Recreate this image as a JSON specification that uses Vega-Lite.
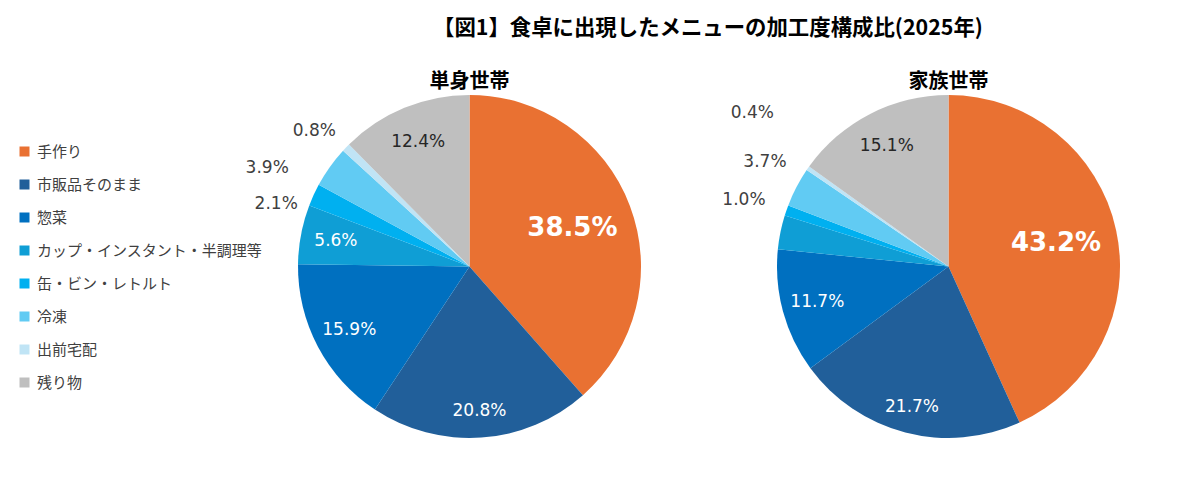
{
  "$schema": "https://vega.github.io/schema/vega-lite/v6.json",
  "background": "white",
  "padding": {"left": 17, "top": 17, "right": 10, "bottom": 10},
  "title": {"text": "【図1】食卓に出現したメニューの加工度構成比(2025年)", "font": "Noto Sans CJK JP", "fontSize": 21.4, "fontWeight": "bold", "color": "#000000", "anchor": "start", "frame": "group", "dx": 135, "offset": -17},
  "data": {"values": [
    {"household": "単身世帯", "cat": "手作り", "idx": 1, "pct": 0.385},
    {"household": "単身世帯", "cat": "市販品そのまま", "idx": 2, "pct": 0.208},
    {"household": "単身世帯", "cat": "惣菜", "idx": 3, "pct": 0.159},
    {"household": "単身世帯", "cat": "カップ・インスタント・半調理等", "idx": 4, "pct": 0.056},
    {"household": "単身世帯", "cat": "缶・ビン・レトルト", "idx": 5, "pct": 0.021},
    {"household": "単身世帯", "cat": "冷凍", "idx": 6, "pct": 0.039},
    {"household": "単身世帯", "cat": "出前宅配", "idx": 7, "pct": 0.008},
    {"household": "単身世帯", "cat": "残り物", "idx": 8, "pct": 0.124},
    {"household": "家族世帯", "cat": "手作り", "idx": 1, "pct": 0.432},
    {"household": "家族世帯", "cat": "市販品そのまま", "idx": 2, "pct": 0.217},
    {"household": "家族世帯", "cat": "惣菜", "idx": 3, "pct": 0.117},
    {"household": "家族世帯", "cat": "カップ・インスタント・半調理等", "idx": 4, "pct": 0.032},
    {"household": "家族世帯", "cat": "缶・ビン・レトルト", "idx": 5, "pct": 0.010},
    {"household": "家族世帯", "cat": "冷凍", "idx": 6, "pct": 0.037},
    {"household": "家族世帯", "cat": "出前宅配", "idx": 7, "pct": 0.004},
    {"household": "家族世帯", "cat": "残り物", "idx": 8, "pct": 0.151}
  ]},
  "facet": {"column": {"field": "household", "type": "nominal", "sort": ["単身世帯", "家族世帯"],
    "header": {"title": null, "labelFont": "Noto Sans CJK JP", "labelFontSize": 20, "labelFontWeight": "bold", "labelColor": "#000000", "labelPadding": 3}}},
  "spacing": {"column": 136},
  "bounds": "flush",
  "spec": {
    "width": 343, "height": 343,
    "encoding": {
      "theta": {"field": "pct", "type": "quantitative", "stack": true, "scale": {"domain": [0, 1]}},
      "order": {"field": "idx", "type": "quantitative"}
    },
    "layer": [
      {"mark": {"type": "arc"},
       "encoding": {"color": {"field": "cat", "type": "nominal",
         "scale": {"domain": ["手作り", "市販品そのまま", "惣菜", "カップ・インスタント・半調理等", "缶・ビン・レトルト", "冷凍", "出前宅配", "残り物"],
                   "range": ["#E97132", "#215F9A", "#0070C0", "#0F9ED5", "#00B0F0", "#61CBF3", "#C0E4F5", "#BFBFBF"]},
         "legend": {"orient": "none", "legendX": -281, "legendY": 49, "title": null, "symbolType": "square", "symbolSize": 100, "symbolStrokeWidth": 0, "labelFont": "Noto Sans CJK JP", "labelFontSize": 15, "labelColor": "#404040", "labelOffset": 5, "rowPadding": 17, "labelLimit": 300, "padding": 0}}}},
      {"mark": {"type": "text", "radius": 110, "font": "DejaVu Sans", "fontSize": 26, "fontWeight": "bold", "color": "#FFFFFF"},
       "encoding": {"detail": {"field": "cat"}, "text": {"condition": {"test": "datum.cat === '手作り'", "field": "pct", "type": "quantitative", "format": ".1%"}, "value": ""}}},
      {"mark": {"type": "text", "radius": 136, "font": "DejaVu Sans", "fontSize": 17, "color": "#FFFFFF"},
       "encoding": {"detail": {"field": "cat"}, "text": {"condition": {"test": "datum.cat === '惣菜' || (datum.cat === 'カップ・インスタント・半調理等' && datum.household === '単身世帯')", "field": "pct", "type": "quantitative", "format": ".1%"}, "value": ""}}},
      {"mark": {"type": "text", "radius": 145, "font": "DejaVu Sans", "fontSize": 17, "color": "#FFFFFF"},
       "encoding": {"detail": {"field": "cat"}, "text": {"condition": {"test": "datum.cat === '市販品そのまま'", "field": "pct", "type": "quantitative", "format": ".1%"}, "value": ""}}},
      {"mark": {"type": "text", "radius": 135, "font": "DejaVu Sans", "fontSize": 17, "color": "#262626"},
       "encoding": {"detail": {"field": "cat"}, "text": {"condition": {"test": "datum.cat === '残り物'", "field": "pct", "type": "quantitative", "format": ".1%"}, "value": ""}}},
      {"mark": {"type": "text", "radius": 203, "thetaOffset": -0.12, "font": "DejaVu Sans", "fontSize": 17, "color": "#404040"},
       "encoding": {"detail": {"field": "cat"}, "text": {"condition": {"test": "datum.cat === '缶・ビン・レトルト' && datum.household === '単身世帯'", "field": "pct", "type": "quantitative", "format": ".1%"}, "value": ""}}},
      {"mark": {"type": "text", "radius": 225, "thetaOffset": -0.166, "font": "DejaVu Sans", "fontSize": 17, "color": "#404040"},
       "encoding": {"detail": {"field": "cat"}, "text": {"condition": {"test": "datum.cat === '冷凍' && datum.household === '単身世帯'", "field": "pct", "type": "quantitative", "format": ".1%"}, "value": ""}}},
      {"mark": {"type": "text", "radius": 206, "thetaOffset": -0.049, "font": "DejaVu Sans", "fontSize": 17, "color": "#404040"},
       "encoding": {"detail": {"field": "cat"}, "text": {"condition": {"test": "datum.cat === '出前宅配' && datum.household === '単身世帯'", "field": "pct", "type": "quantitative", "format": ".1%"}, "value": ""}}},
      {"mark": {"type": "text", "radius": 215, "thetaOffset": -0.02, "font": "DejaVu Sans", "fontSize": 17, "color": "#404040"},
       "encoding": {"detail": {"field": "cat"}, "text": {"condition": {"test": "datum.cat === '缶・ビン・レトルト' && datum.household === '家族世帯'", "field": "pct", "type": "quantitative", "format": ".1%"}, "value": ""}}},
      {"mark": {"type": "text", "radius": 211, "thetaOffset": 0.035, "font": "DejaVu Sans", "fontSize": 17, "color": "#404040"},
       "encoding": {"detail": {"field": "cat"}, "text": {"condition": {"test": "datum.cat === '冷凍' && datum.household === '家族世帯'", "field": "pct", "type": "quantitative", "format": ".1%"}, "value": ""}}},
      {"mark": {"type": "text", "radius": 249, "thetaOffset": 0.054, "font": "DejaVu Sans", "fontSize": 17, "color": "#404040"},
       "encoding": {"detail": {"field": "cat"}, "text": {"condition": {"test": "datum.cat === '出前宅配' && datum.household === '家族世帯'", "field": "pct", "type": "quantitative", "format": ".1%"}, "value": ""}}}
    ]
  },
  "config": {"view": {"stroke": null}}
}
